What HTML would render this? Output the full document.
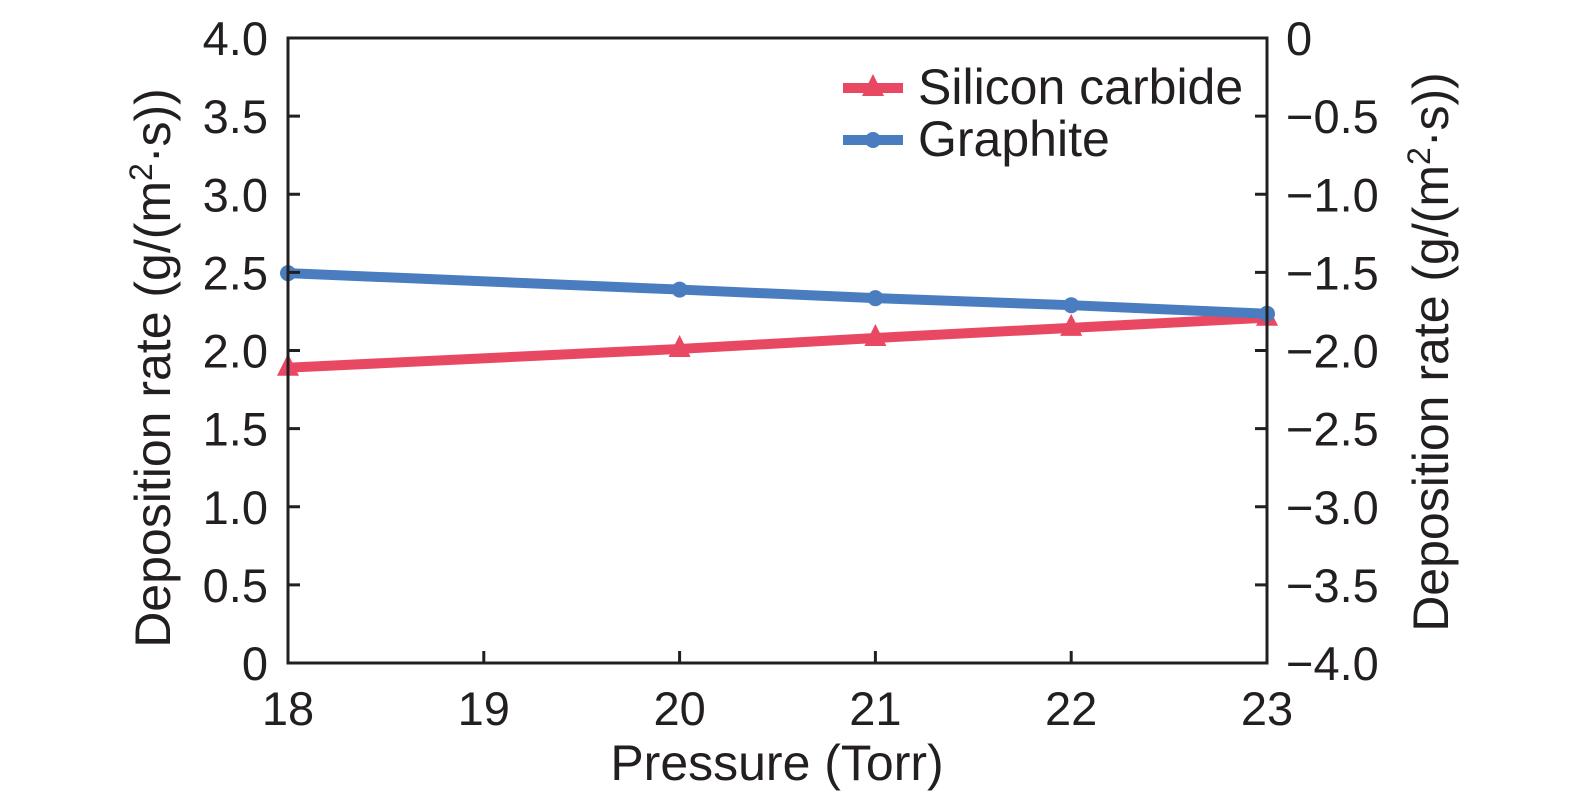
<!DOCTYPE html>
<html><head><meta charset="utf-8"><style>
html,body{margin:0;padding:0;background:#fff;}
svg{display:block;font-family:"Liberation Sans",sans-serif;fill:#231f20;}
</style></head><body>
<svg id="chart" width="1575" height="807">
<g id="marks"></g>
<g id="axes"></g>
</svg>
<script>
const pressures=[18,20,21,22,23];
const sicValues=[1.89,2.01,2.08,2.145,2.21];
const graphiteValues=[2.495,2.39,2.335,2.29,2.235];
const xTicks=[18,19,20,21,22,23];
const leftTicks=[0,0.5,1,1.5,2,2.5,3,3.5,4];
const leftLabels=["0","0.5","1.0","1.5","2.0","2.5","3.0","3.5","4.0"];
const rightLabels=["\u22124.0","\u22123.5","\u22123.0","\u22122.5","\u22122.0","\u22121.5","\u22121.0","\u22120.5","0"];

const L=288,R=1267,T=38,B=663;
const sx=v=>L+(v-18)/(23-18)*(R-L);
const sy=v=>B-(v/4)*(B-T);
const NS="http://www.w3.org/2000/svg";
function mk(tag,attrs,parent){const e=document.createElementNS(NS,tag);for(const k in attrs)e.setAttribute(k,attrs[k]);parent.appendChild(e);return e;}
const axes=document.getElementById('axes'),marks=document.getElementById('marks');

const frame=mk('rect',{x:L,y:T,width:R-L,height:B-T,fill:'none',stroke:'#231f20','stroke-width':3},axes);



xTicks.forEach(t=>{
  const x=sx(t);
  mk('line',{x1:x,y1:B,x2:x,y2:B-12,stroke:'#231f20','stroke-width':3},axes);
  const tx=mk('text',{x:x,y:725,'font-size':47,'text-anchor':'middle'},axes);
  tx.textContent=t;
  
  
});
leftTicks.forEach((t,i)=>{
  const y=sy(t);
  mk('line',{x1:L,y1:y,x2:L+12,y2:y,stroke:'#231f20','stroke-width':3},axes);
  mk('line',{x1:R,y1:y,x2:R-12,y2:y,stroke:'#231f20','stroke-width':3},axes);
  const a=mk('text',{x:268,y:y+17,'font-size':47,'text-anchor':'end'},axes);
  a.textContent=leftLabels[i];
  
  
  const b=mk('text',{x:1286,y:y+17,'font-size':47,'text-anchor':'start'},axes);
  b.textContent=rightLabels[i];
  
  
});

const xt=mk('text',{x:777,y:780,'font-size':50,'text-anchor':'middle'},axes);
xt.textContent='Pressure (Torr)';


const yl=mk('text',{transform:'translate(170,368) rotate(-90)','font-size':50,'text-anchor':'middle'},axes);
yl.innerHTML='Deposition rate (g/(m<tspan font-size="32" dy="-18">2</tspan><tspan dy="18">·s))</tspan>';


const yr=mk('text',{transform:'translate(1448,352) rotate(-90)','font-size':50,'text-anchor':'middle'},axes);
yr.innerHTML='Deposition rate (g/(m<tspan font-size="32" dy="-18">2</tspan><tspan dy="18">·s))</tspan>';



function series(vals,color,marker,name){
  const pts=pressures.map((p,i)=>sx(p)+','+sy(vals[i])).join(' ');
  const pl=mk('polyline',{points:pts,fill:'none',stroke:color,'stroke-width':10},marks);
  
  
  pressures.forEach((p,i)=>{
    const x=sx(p),y=sy(vals[i]);
    let m;
    if(marker==='tri') m=mk('polygon',{points:`${x},${y-14} ${x-11},${y+8} ${x+11},${y+8}`,fill:color},marks);
    else m=mk('circle',{cx:x,cy:y,r:8,fill:color},marks);
    
    
  });
}
series(sicValues,'#e94862','tri','silicon-carbide');
series(graphiteValues,'#4a7dc0','circ','graphite');

const lg=mk('g',{},axes);


mk('line',{x1:843,y1:88,x2:903,y2:88,stroke:'#e94862','stroke-width':10},lg);
mk('polygon',{points:'873,74 862,96 884,96',fill:'#e94862'},lg);
const l1=mk('text',{x:918,y:104,'font-size':50},lg);
l1.textContent='Silicon carbide';


mk('line',{x1:843,y1:140,x2:903,y2:140,stroke:'#4a7dc0','stroke-width':10},lg);
mk('circle',{cx:873,cy:140,r:8,fill:'#4a7dc0'},lg);
const l2=mk('text',{x:918,y:156,'font-size':50},lg);
l2.textContent='Graphite';


</script>
</body></html>
